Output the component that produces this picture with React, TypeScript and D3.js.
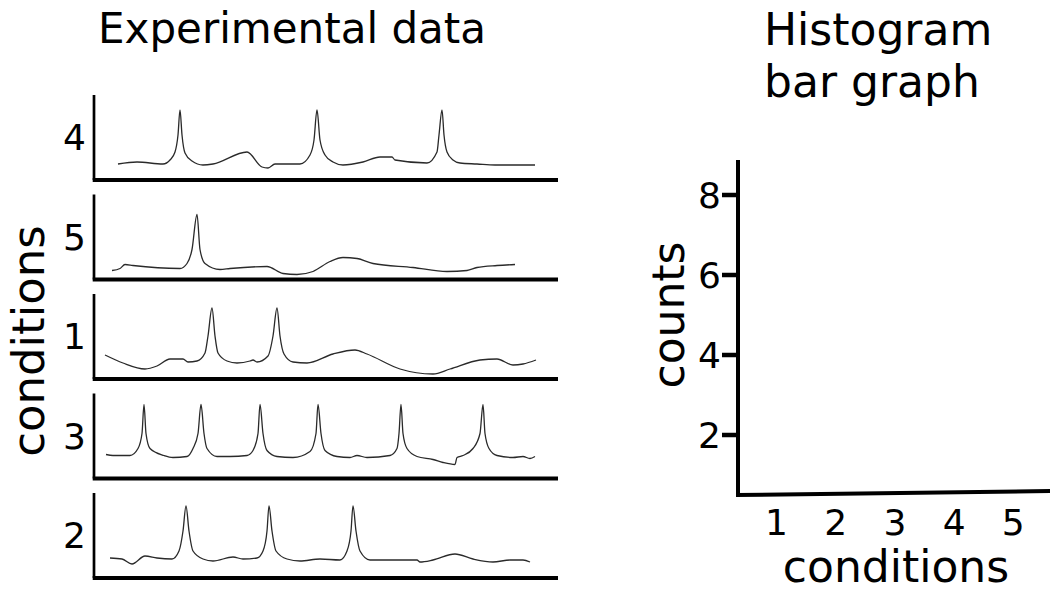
import React, { useEffect, useRef } from 'react';
import * as d3 from 'd3';

// panel order top to bottom, as printed in the figure
const panelConditions = ['4', '5', '1', '3', '2'];

// traces: [time, signal], time 0..464, signal 0..85
const trace4: [number, number][] = [
  [24, 16], [43, 18], [69, 16], [76, 20], [81, 28], [84, 45], [86, 70], [88, 45], [91, 27],
  [98, 19], [109, 15], [119, 16], [153, 28], [168, 13], [174, 12], [181, 16], [206, 16],
  [216, 25], [220, 40], [223, 70], [226, 40], [231, 25], [239, 18], [249, 15], [269, 18],
  [286, 23], [298, 23], [301, 20], [333, 17], [343, 28], [345, 45], [348, 70], [350, 45],
  [353, 28], [359, 20], [366, 17], [383, 16], [401, 15], [441, 15],
];

const trace5: [number, number][] = [
  [18, 9], [26, 11], [31, 15], [39, 14], [86, 11], [93, 16], [98, 30], [103, 65], [106, 30],
  [111, 16], [126, 10], [136, 11], [173, 13], [189, 6], [203, 5], [219, 8], [236, 18],
  [249, 22], [263, 21], [279, 16], [319, 12], [353, 8], [373, 9], [383, 12], [403, 14], [421, 15],
];

const trace1: [number, number][] = [
  [11, 24], [29, 16], [51, 10], [63, 13], [76, 20], [89, 20], [94, 17], [103, 18], [111, 26],
  [114, 43], [118, 71], [121, 43], [124, 26], [133, 18], [143, 16], [156, 18], [159, 19],
  [163, 17], [174, 23], [179, 43], [183, 71], [186, 43], [190, 25], [199, 17], [213, 16],
  [239, 25], [261, 29], [273, 25], [306, 10], [339, 5], [356, 10], [386, 19], [403, 20],
  [419, 14], [429, 15], [442, 19],
];

const trace3: [number, number][] = [
  [12, 24], [19, 23], [36, 23], [44, 30], [48, 45], [50, 74], [52, 45], [56, 30], [70, 23],
  [79, 21], [93, 22], [99, 30], [104, 45], [107, 74], [110, 45], [113, 30], [123, 22],
  [136, 22], [153, 23], [159, 28], [164, 45], [166, 74], [169, 45], [173, 28], [183, 22],
  [199, 21], [216, 27], [222, 45], [224, 74], [227, 45], [231, 28], [243, 22], [256, 21],
  [263, 23], [273, 21], [296, 23], [303, 30], [305, 45], [307, 74], [309, 45], [313, 30],
  [323, 22], [339, 19], [349, 16], [361, 14], [363, 21], [369, 23], [379, 30], [386, 45],
  [389, 74], [391, 45], [395, 30], [403, 23], [419, 21], [429, 22], [436, 20], [441, 22],
];

const trace2: [number, number][] = [
  [16, 20], [28, 19], [38, 14], [51, 22], [63, 20], [78, 19], [85, 27], [89, 47], [92, 72],
  [95, 47], [99, 27], [109, 19], [119, 17], [139, 21], [149, 19], [163, 20], [169, 27],
  [173, 47], [175, 72], [178, 47], [182, 27], [193, 19], [206, 17], [226, 19], [246, 18],
  [253, 27], [257, 47], [259, 72], [262, 47], [266, 27], [276, 18], [293, 18], [323, 18],
  [326, 16], [339, 18], [361, 24], [379, 19], [399, 16], [416, 18], [429, 18], [436, 16],
];

const traces: Record<string, [number, number][]> = {
  '4': trace4, '5': trace5, '1': trace1, '3': trace3, '2': trace2,
};

// histogram axes (empty chart)
const histCategories = [1, 2, 3, 4, 5];
const histYTicks = [2, 4, 6, 8];

const FONT = '"DejaVu Sans", Verdana, sans-serif';

function App() {
  const svgRef = useRef<SVGSVGElement>(null);

  useEffect(() => {
    const svg = d3.select(svgRef.current);
    svg.selectAll('*').remove();

    // ---- left: experimental traces ----
    const panelLeft = 94;
    const panelRight = 558;
    const panelHeight = 85;
    const panelTop0 = 95;
    const panelStep = 99.5;

    const x = d3.scaleLinear().domain([0, 464]).range([panelLeft, panelRight]);

    svg.append('text')
      .attr('x', 98)
      .attr('y', 43)
      .attr('font-family', FONT)
      .attr('font-size', 42)
      .text('Experimental data');

    svg.append('text')
      .attr('transform', 'translate(44,341) rotate(-90)')
      .attr('text-anchor', 'middle')
      .attr('font-family', FONT)
      .attr('font-size', 45)
      .text('conditions');

    panelConditions.forEach((cond, i) => {
      const top = panelTop0 + i * panelStep;
      const bottom = top + panelHeight;
      const y = d3.scaleLinear().domain([0, 85]).range([bottom, top]);
      const g = svg.append('g');

      g.append('line')
        .attr('x1', panelLeft).attr('x2', panelLeft)
        .attr('y1', top).attr('y2', bottom)
        .attr('stroke', '#000').attr('stroke-width', 2.7);

      g.append('line')
        .attr('x1', panelLeft - 1.3).attr('x2', panelRight)
        .attr('y1', bottom).attr('y2', bottom)
        .attr('stroke', '#000').attr('stroke-width', 4);

      g.append('text')
        .attr('x', 86)
        .attr('y', (top + bottom) / 2)
        .attr('dy', '0.36em')
        .attr('text-anchor', 'end')
        .attr('font-family', FONT)
        .attr('font-size', 36)
        .text(cond);

      const line = d3.line<[number, number]>()
        .x(d => x(d[0]))
        .y(d => y(d[1]))
        .curve(d3.curveMonotoneX);

      g.append('path')
        .datum(traces[cond])
        .attr('d', line)
        .attr('fill', 'none')
        .attr('stroke', '#2a2a2a')
        .attr('stroke-width', 1.3)
        .attr('stroke-linejoin', 'round');
    });

    // ---- right: empty histogram ----
    const hx = d3.scaleLinear().domain([0.35, 5.62]).range([738, 1050]);
    const hy = d3.scaleLinear().domain([0, 8]).range([515, 195]);

    svg.append('text')
      .attr('x', 764)
      .attr('y', 45)
      .attr('font-family', FONT)
      .attr('font-size', 44)
      .text('Histogram');

    svg.append('text')
      .attr('x', 764)
      .attr('y', 97)
      .attr('font-family', FONT)
      .attr('font-size', 44)
      .text('bar graph');

    svg.append('line')
      .attr('x1', hx(0.35)).attr('x2', hx(0.35))
      .attr('y1', hy(8.875)).attr('y2', hy(0.45))
      .attr('stroke', '#000').attr('stroke-width', 4);

    // bottom axis is drawn slightly tilted in the original
    svg.append('line')
      .attr('x1', hx(0.35) - 2).attr('x2', hx(5.62))
      .attr('y1', hy(0.5)).attr('y2', hy(0.6))
      .attr('stroke', '#000').attr('stroke-width', 4);

    svg.selectAll('.ytick')
      .data(histYTicks)
      .enter().append('line')
      .attr('class', 'ytick')
      .attr('x1', hx(0.35) - 16).attr('x2', hx(0.35))
      .attr('y1', d => hy(d)).attr('y2', d => hy(d))
      .attr('stroke', '#000').attr('stroke-width', 4.5);

    svg.selectAll('.ylabel')
      .data(histYTicks)
      .enter().append('text')
      .attr('class', 'ylabel')
      .attr('x', 721)
      .attr('y', d => hy(d))
      .attr('dy', '0.36em')
      .attr('text-anchor', 'end')
      .attr('font-family', FONT)
      .attr('font-size', 36)
      .text(d => d);

    svg.selectAll('.xlabel')
      .data(histCategories)
      .enter().append('text')
      .attr('class', 'xlabel')
      .attr('x', d => hx(d))
      .attr('y', 535)
      .attr('text-anchor', 'middle')
      .attr('font-family', FONT)
      .attr('font-size', 36)
      .text(d => d);

    svg.append('text')
      .attr('x', 896)
      .attr('y', 582)
      .attr('text-anchor', 'middle')
      .attr('font-family', FONT)
      .attr('font-size', 44)
      .text('conditions');

    svg.append('text')
      .attr('transform', 'translate(684,315) rotate(-90)')
      .attr('text-anchor', 'middle')
      .attr('font-family', FONT)
      .attr('font-size', 44)
      .text('counts');
  }, []);

  return (
    <svg
      ref={svgRef}
      width={1050}
      height={592}
      style={{ position: 'absolute', left: 0, top: 0, background: '#fff' }}
    />
  );
}

export default App;
